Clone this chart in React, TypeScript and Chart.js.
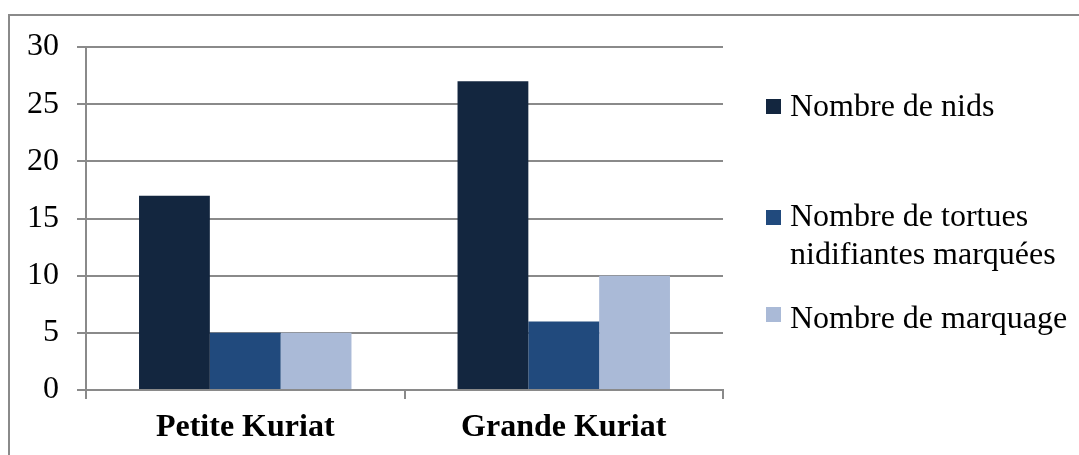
import React, { useEffect, useRef } from "react";
import { Chart, registerables } from "chart.js";

Chart.register(...registerables);

// Sites and counts per series
const categories = ["Petite Kuriat", "Grande Kuriat"];
const seriesLabels = [
  "Nombre de nids",
  "Nombre de tortues\nnidifiantes marquées",
  "Nombre de marquage",
];
const nombreNids = [17, 27];
const tortuesMarquees = [5, 6];
const nombreMarquage = [5, 10];
const yTicks = [0, 5, 10, 15, 20, 25, 30];

const colors = ["#13263F", "#214A7D", "#AABAD7"];
const gridColor = "#8a8a8a";
const serif = "'Liberation Serif', 'Times New Roman', serif";
const fontSize = 32;

// Legend rows: swatch top and first-line baseline
const legendRows = [
  { top: 99, baseline: 116 },
  { top: 210, baseline: 226 },
  { top: 307, baseline: 328 },
];

const framePlugin = {
  id: "frame",
  beforeDraw(chart: any) {
    const ctx = chart.ctx;
    ctx.save();
    ctx.strokeStyle = gridColor;
    ctx.lineWidth = 2;
    ctx.beginPath();
    ctx.moveTo(9, chart.height);
    ctx.lineTo(9, 15);
    ctx.lineTo(chart.width, 15);
    ctx.stroke();
    ctx.restore();
  },
};

const sideLegendPlugin = {
  id: "sideLegend",
  afterDraw(chart: any) {
    const ctx = chart.ctx;
    ctx.save();
    ctx.font = `${fontSize}px ${serif}`;
    ctx.textBaseline = "alphabetic";
    ctx.textAlign = "left";
    chart.data.datasets.forEach((ds: any, i: number) => {
      const row = legendRows[i];
      ctx.fillStyle = ds.backgroundColor;
      ctx.fillRect(766, row.top, 15, 15);
      ctx.fillStyle = "#000";
      String(ds.label)
        .split("\n")
        .forEach((line: string, j: number) => {
          ctx.fillText(line, 790, row.baseline + j * 38);
        });
    });
    ctx.restore();
  },
};

export default function App() {
  const canvasRef = useRef<HTMLCanvasElement | null>(null);

  useEffect(() => {
    if (!canvasRef.current) return;
    const chart = new Chart(canvasRef.current, {
      type: "bar",
      data: {
        labels: categories,
        datasets: [nombreNids, tortuesMarquees, nombreMarquage].map((d, i) => ({
          label: seriesLabels[i],
          data: d,
          backgroundColor: colors[i],
          borderWidth: 0,
          barPercentage: 1,
          categoryPercentage: 0.667,
        })),
      },
      options: {
        responsive: false,
        animation: false,
        events: [],
        layout: { padding: { left: 0, top: 47, right: 1079 - 723, bottom: 0 } },
        plugins: {
          legend: { display: false },
          tooltip: { enabled: false },
        },
        scales: {
          x: {
            offset: true,
            grid: {
              offset: true,
              drawOnChartArea: false,
              drawTicks: true,
              tickLength: 9,
              color: gridColor,
              lineWidth: 2,
            },
            border: { display: true, color: gridColor, width: 2 },
            ticks: {
              color: "#000",
              padding: 10,
              font: { family: serif, size: fontSize, weight: "bold" },
            },
            afterFit: (s: any) => {
              s.height = 455 - 390;
            },
          },
          y: {
            min: 0,
            max: 30,
            afterBuildTicks: (s: any) => {
              s.ticks = yTicks.map((v) => ({ value: v }));
            },
            grid: {
              color: gridColor,
              lineWidth: 2,
              drawTicks: true,
              tickLength: 9,
            },
            border: { display: true, color: gridColor, width: 2 },
            ticks: {
              color: "#000",
              padding: 18,
              font: { family: serif, size: fontSize },
            },
            afterFit: (s: any) => {
              s.width = 86;
            },
          },
        },
      },
      plugins: [framePlugin, sideLegendPlugin],
    });
    return () => chart.destroy();
  }, []);

  return (
    <div style={{ position: "absolute", left: 0, top: 0, width: 1079, height: 455, background: "#fff" }}>
      <canvas ref={canvasRef} width={1079} height={455} style={{ display: "block" }} />
    </div>
  );
}
